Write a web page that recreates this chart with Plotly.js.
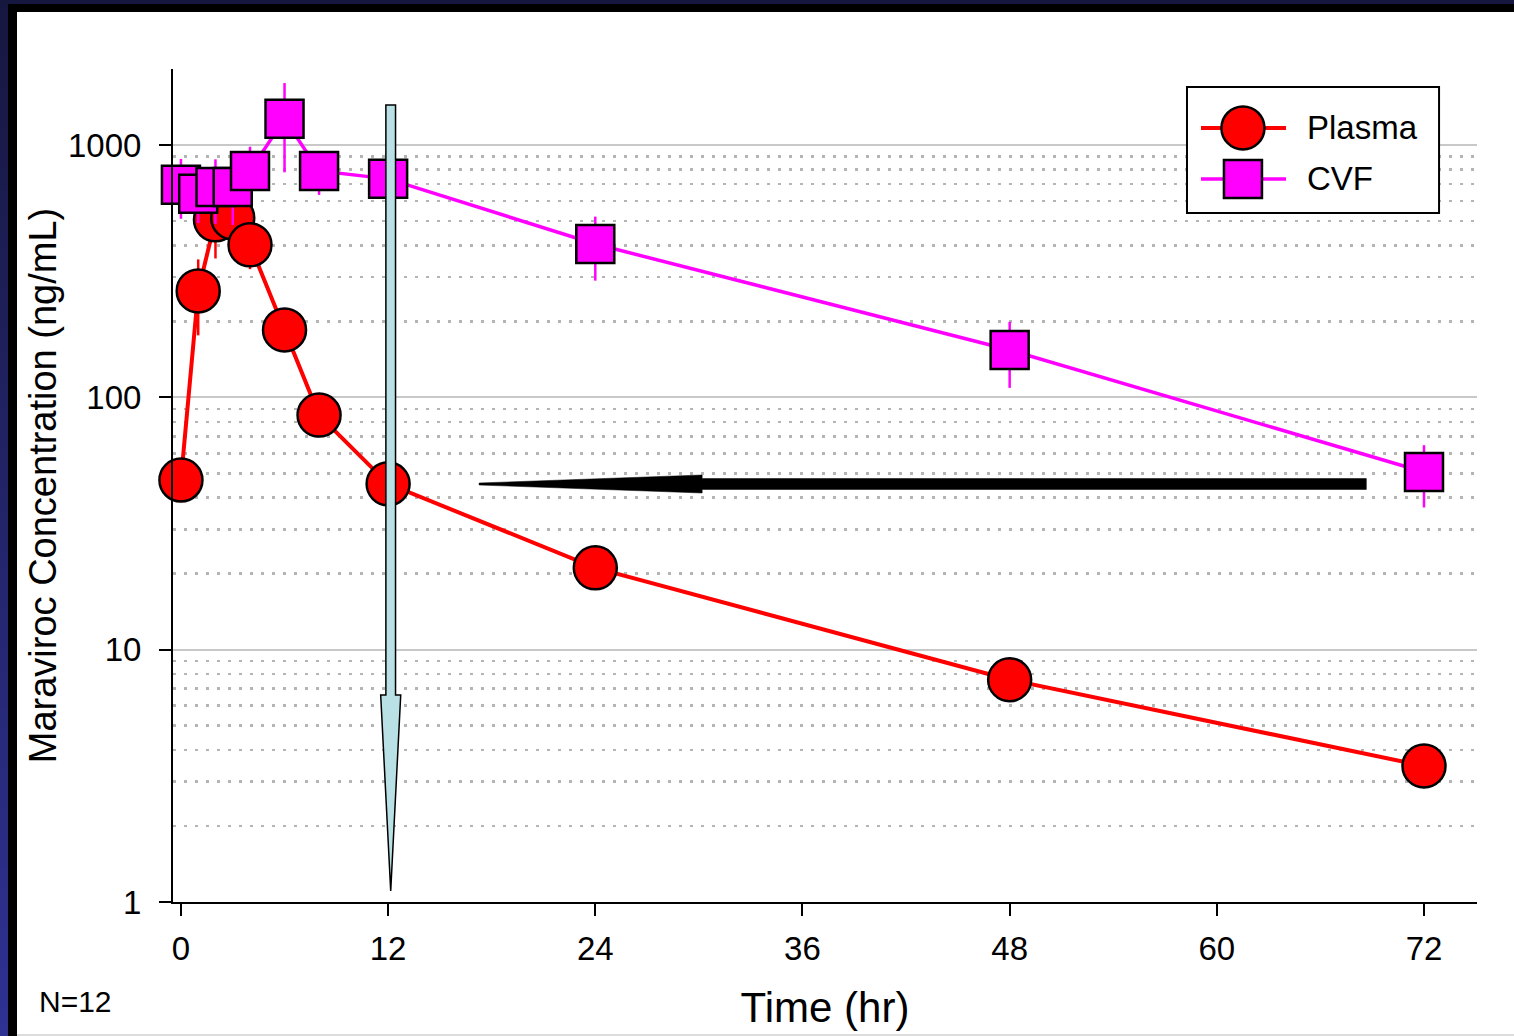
<!DOCTYPE html>
<html><head><meta charset="utf-8">
<script src="https://cdn.plot.ly/plotly-3.0.1.min.js"></script>
<style>
html,body{margin:0;padding:0;width:1514px;height:1036px;overflow:hidden;background:#000;}
#navyTop{position:absolute;left:0;top:0;width:1514px;height:4px;background:#16173f;}
#navyLeft{position:absolute;left:0;top:0;width:8px;height:1036px;background:linear-gradient(#16173f,#2f3193);}
#chart{position:absolute;left:17px;top:12px;width:1497px;height:1024px;background:#fff;}
#bottomLine{position:absolute;left:17px;top:1034px;width:1497px;height:2px;background:#dcdcdc;}
</style></head>
<body>
<div id="navyTop"></div><div id="navyLeft"></div>
<div id="chart"></div>
<div id="bottomLine"></div>
<script>
// ---- data ----
const timeHr     = [0, 1, 2, 3, 4, 6, 8, 12, 24, 48, 72];
const plasmaConc = [47, 264, 505, 514, 402, 185, 85, 45.4, 21.1, 7.6, 3.46];
const plasmaSD   = [4, 88, 150, 130, 80, 25, 10, 5, 2, 0.8, 0.4];
const cvfConc    = [695, 640, 682, 682, 789, 1269, 789, 734, 405, 154, 50.6];
const cvfSD      = [185, 150, 195, 200, 195, 490, 155, 120, 115, 45, 14];
const seriesNames = ['Plasma', 'CVF'];
const xTickVals  = [0, 12, 24, 36, 48, 60, 72];
const yTickVals  = [1, 10, 100, 1000];
const yTickText  = ['1', '10', '100', '1000'];
const yMinorVals = [2,3,4,5,6,7,8,9,20,30,40,50,60,70,80,90,200,300,400,500,600,700,800,900,2000];
// legend key glyph positions (inside the legend box, 0..1)
const keyLineX = [0.0556, 0.393];
const keyMarkX = [0.222];
const keyRowY  = [0.675, 0.27];

const FONT = 'Arial, "Liberation Sans", Helvetica, sans-serif';
const RED = '#ff0000', MAG = '#ff00ff';

const traces = [
  {x: timeHr, y: plasmaConc, name: seriesNames[0], type: 'scatter', mode: 'lines+markers',
   line: {color: RED, width: 4},
   marker: {symbol: 'circle', size: 43, color: RED, line: {color: '#000', width: 2.5}},
   error_y: {type: 'data', array: plasmaSD, visible: true, color: RED, thickness: 2.5, width: 0},
   cliponaxis: false, showlegend: false},
  {x: timeHr, y: cvfConc, name: seriesNames[1], type: 'scatter', mode: 'lines+markers',
   line: {color: MAG, width: 3.5},
   marker: {symbol: 'square', size: 38, color: MAG, line: {color: '#000', width: 2.5}},
   error_y: {type: 'data', array: cvfSD, visible: true, color: MAG, thickness: 2.5, width: 0},
   cliponaxis: false, showlegend: false},
  // legend key glyphs
  {x: keyLineX, y: [keyRowY[0], keyRowY[0]], xaxis: 'x2', yaxis: 'y2', mode: 'lines',
   line: {color: RED, width: 4}, showlegend: false, hoverinfo: 'skip'},
  {x: keyMarkX, y: [keyRowY[0]], xaxis: 'x2', yaxis: 'y2', mode: 'markers',
   marker: {symbol: 'circle', size: 43, color: RED, line: {color: '#000', width: 2.5}}, showlegend: false, hoverinfo: 'skip'},
  {x: keyLineX, y: [keyRowY[1], keyRowY[1]], xaxis: 'x2', yaxis: 'y2', mode: 'lines',
   line: {color: MAG, width: 3.5}, showlegend: false, hoverinfo: 'skip'},
  {x: keyMarkX, y: [keyRowY[1]], xaxis: 'x2', yaxis: 'y2', mode: 'markers',
   marker: {symbol: 'square', size: 38, color: MAG, line: {color: '#000', width: 2.5}}, showlegend: false, hoverinfo: 'skip'}
];

const layout = {
  width: 1497, height: 1024,
  margin: {l: 156, r: 37, t: 57, b: 134},
  paper_bgcolor: '#ffffff', plot_bgcolor: '#ffffff',
  font: {family: FONT, color: '#000', size: 33},
  showlegend: false,
  xaxis: {
    range: [-0.46, 75.07], tickmode: 'array', tickvals: xTickVals,
    ticks: 'outside', ticklen: 12, tickwidth: 2, tickcolor: '#000',
    showline: true, linecolor: '#000', linewidth: 2,
    showgrid: false, zeroline: false,
    tickfont: {size: 33, family: FONT, color: '#000'}, ticklabelstandoff: 4,
    title: {text: 'Time (hr)', font: {size: 42, family: FONT, color: '#000'}, standoff: 27}
  },
  yaxis: {
    type: 'log', range: [0, 3.301], tickmode: 'array', tickvals: yTickVals, ticktext: yTickText,
    ticks: 'outside', ticklen: 12, tickwidth: 2, tickcolor: '#000',
    showline: true, linecolor: '#000', linewidth: 2,
    showgrid: true, gridcolor: '#c8c8c8', gridwidth: 2, zeroline: false,
    minor: {tickmode: 'array', tickvals: yMinorVals, showgrid: true, gridcolor: '#b4b4b4', gridwidth: 2.5, griddash: '3px,8px', ticks: ''},
    tickfont: {size: 33, family: FONT, color: '#000'}, ticklabelstandoff: 11,
    title: {text: 'Maraviroc Concentration (ng/mL)', font: {size: 38, family: FONT, color: '#000'}, standoff: 0}
  },
  xaxis2: {domain: [0.7776, 0.9709], range: [0, 1], anchor: 'y2', visible: false, fixedrange: true},
  yaxis2: {domain: [0.8271, 0.9784], range: [0, 1], anchor: 'x2', visible: false, fixedrange: true},
  shapes: [
    // legend frame
    {type: 'rect', xref: 'paper', yref: 'paper', x0: 0.7776, x1: 0.9709, y0: 0.8271, y1: 0.9784,
     line: {color: '#000', width: 2}, layer: 'above'},
    // light blue downward arrow at 12 h
    {type: 'path', xref: 'x', yref: 'paper', layer: 'above',
     path: 'M 11.87,0.9568 L 12.43,0.9568 L 12.43,0.2485 L 12.73,0.2485 L 12.15,0.0132 L 11.57,0.2485 L 11.87,0.2485 Z',
     fillcolor: '#b9e0e4', line: {color: '#000', width: 1.5}},
    // black leftward arrow
    {type: 'path', xref: 'x', yref: 'paper', layer: 'above',
     path: 'M 17.27,0.5030 L 30.19,0.5126 L 30.19,0.5084 L 68.66,0.5084 L 68.66,0.4952 L 30.19,0.4952 L 30.19,0.4910 L 17.27,0.5006 Z',
     fillcolor: '#000', line: {color: '#000', width: 0.5}}
  ],
  annotations: [
    {text: seriesNames[0], xref: 'x2', yref: 'y2', x: 0.468, y: keyRowY[0], xanchor: 'left', yanchor: 'middle',
     showarrow: false, font: {size: 33, family: FONT, color: '#000'}},
    {text: seriesNames[1], xref: 'x2', yref: 'y2', x: 0.468, y: keyRowY[1], xanchor: 'left', yanchor: 'middle',
     showarrow: false, font: {size: 33, family: FONT, color: '#000'}},
    {text: 'N=12', xref: 'paper', yref: 'paper', x: -0.1043, y: -0.12, xanchor: 'left', yanchor: 'middle',
     showarrow: false, font: {size: 30, family: FONT, color: '#000'}}
  ]
};

Plotly.newPlot('chart', traces, layout, {displayModeBar: false, staticPlot: true});
</script>
</body></html>
